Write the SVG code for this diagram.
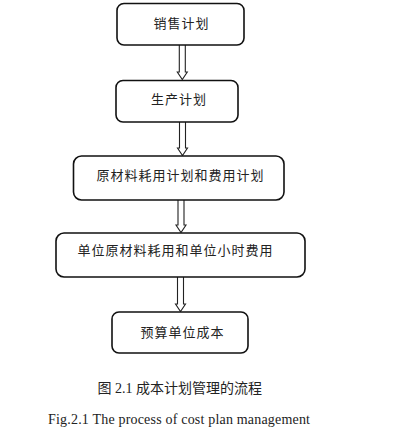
<svg xmlns="http://www.w3.org/2000/svg" width="400" height="438" viewBox="0 0 400 438">
<style>
.box{fill:#fff;stroke:#111;stroke-width:1.6}
.lbl{font-family:"Liberation Serif","Noto Sans CJK SC",serif;font-size:13px;letter-spacing:1px;fill:#222;text-anchor:middle}
.arr{fill:#fff;stroke:#222;stroke-width:1.1;stroke-linejoin:miter}
.cap{font-family:"Liberation Serif","Noto Sans CJK SC",serif;font-size:14px;fill:#222}
</style>
<rect width="400" height="438" fill="#fff"/>
<g id="connectors">
<path class="arr" d="M179.3,45 V72 H177.3 L182.3,79.5 L187.3,72 H185.3 V45"/>
<path class="arr" d="M179.5,122 V148 H177.5 L182.5,155.5 L187.5,148 H185.5 V122"/>
<path class="arr" d="M178,200 V225 H176 L181,232.5 L186,225 H184 V200"/>
<path class="arr" d="M177.5,277 V304 H175.5 L180.5,311.5 L185.5,304 H183.5 V277"/>
</g>
<g id="n1"><rect class="box" x="117" y="3.5" width="127" height="41.5" rx="7"/><text class="lbl" x="181.5" y="28">销售计划</text></g>
<g id="n2"><rect class="box" x="116" y="80.5" width="122" height="41.5" rx="7"/><text class="lbl" x="179" y="104">生产计划</text></g>
<g id="n3"><rect class="box" x="73.5" y="156" width="210.5" height="44" rx="8"/><text class="lbl" x="180.5" y="180">原材料耗用计划和费用计划</text></g>
<g id="n4"><rect class="box" x="56" y="233" width="249" height="44" rx="8"/><text class="lbl" x="175.5" y="255">单位原材料耗用和单位小时费用</text></g>
<g id="n5"><rect class="box" x="112" y="312" width="136" height="41" rx="7"/><text class="lbl" x="182.5" y="337">预算单位成本</text></g>
<text class="cap" x="97.5" y="393">图 2.1 成本计划管理的流程</text>
<text class="cap" x="48" y="424" textLength="262" lengthAdjust="spacing">Fig.2.1 The process of cost plan management</text>
</svg>
